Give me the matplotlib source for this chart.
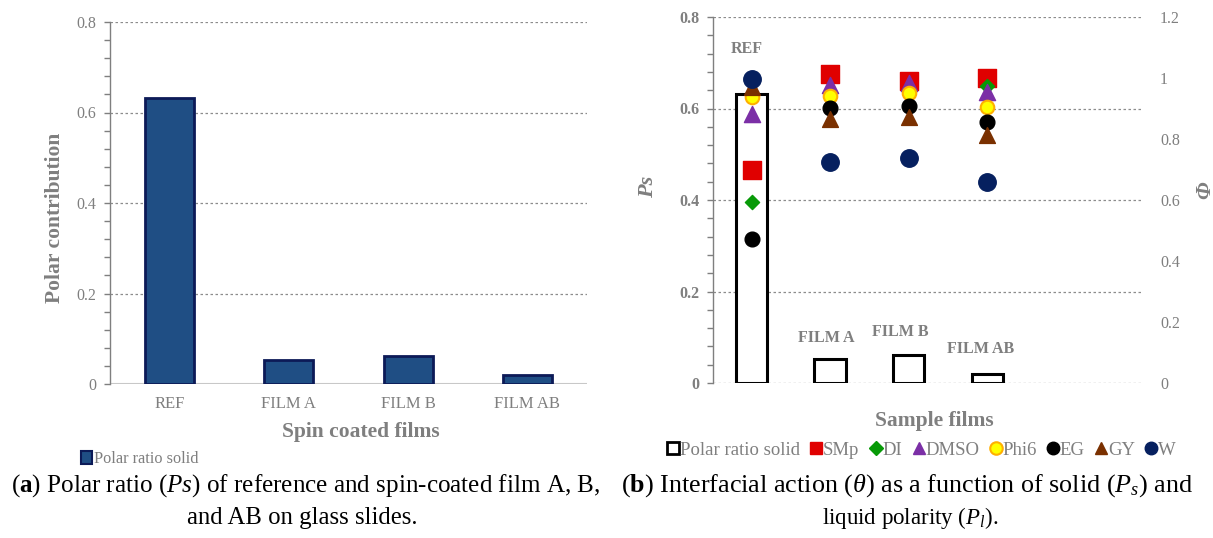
import matplotlib
matplotlib.use("Agg")
import matplotlib.pyplot as plt
from matplotlib.lines import Line2D
from matplotlib.patches import Patch
from matplotlib.ticker import MultipleLocator
import numpy as np

# ---- data -------------------------------------------------------------
films = ["REF", "FILM A", "FILM B", "FILM AB"]
polar_ratio_solid = [0.632, 0.053, 0.062, 0.019]

liquids = ["SMp", "DI", "DMSO", "Phi6", "EG", "GY", "W"]
phi_smp = [0.698, 1.013, 0.991, 0.999]
phi_di = [0.594, 0.955, 0.960, 0.974]
phi_dmso = [0.882, 0.977, 0.983, 0.955]
phi_phi6 = [0.939, 0.942, 0.950, 0.906]
phi_eg = [0.471, 0.901, 0.908, 0.855]
phi_gy = [0.969, 0.865, 0.873, 0.813]
phi_w = [0.996, 0.723, 0.739, 0.658]

ps_ticks = [0, 0.2, 0.4, 0.6, 0.8]
phi_ticks = [0, 0.2, 0.4, 0.6, 0.8, 1.0, 1.2]

# ---- style ------------------------------------------------------------
plt.rcParams["font.family"] = ["Liberation Serif", "DejaVu Serif"]
plt.rcParams["mathtext.fontset"] = "custom"
plt.rcParams["mathtext.rm"] = "Liberation Serif"
plt.rcParams["mathtext.it"] = "Liberation Serif:italic"
plt.rcParams["mathtext.bf"] = "Liberation Serif:bold"

GRAY = "#7f7f7f"
GRID = "#8c8c8c"
W_PX, H_PX = 1213, 538

fig = plt.figure(figsize=(W_PX / 100, H_PX / 100), dpi=100)


def fx(px):
    return px / W_PX


def fy(py):
    return 1 - py / H_PX


def style_left_axis(ax, bold=False):
    for s in ("top", "right", "bottom"):
        ax.spines[s].set_visible(False)
    ax.spines["left"].set_color(GRAY)
    ax.spines["left"].set_linewidth(1.0)
    ax.yaxis.set_major_locator(MultipleLocator(0.2))
    ax.yaxis.set_minor_locator(MultipleLocator(0.04))
    ax.tick_params(axis="y", which="both", direction="out", color=GRAY,
                   labelcolor=GRAY, labelsize=11.5, length=4, width=1, pad=6)
    ax.tick_params(axis="x", length=0)
    ax.set_yticks(ps_ticks)
    ax.set_yticklabels(["0", "0.2", "0.4", "0.6", "0.8"],
                       fontweight="bold" if bold else "normal")
    for t in ps_ticks[1:]:
        ax.axhline(t, color=GRID, lw=0.9, ls=(0, (2, 2)), zorder=0)


# ---- panel (a): bar chart --------------------------------------------
ax1 = fig.add_axes([fx(110), fy(384), fx(587 - 110), (384 - 22) / H_PX])
x = np.arange(len(films))
ax1.bar(x, polar_ratio_solid, width=0.41, color="#1f4e84",
        edgecolor="#0c1a57", linewidth=2.0, zorder=3)
ax1.set_xlim(-0.5, 3.5)
ax1.set_ylim(0, 0.8)
style_left_axis(ax1)
ax1.axhline(0, color="#c8c8c8", lw=1.5, zorder=2)
ax1.set_xticks(x)
ax1.set_xticklabels(films, color=GRAY, fontsize=12)
ax1.tick_params(axis="x", pad=9)

fig.text(fx(361), fy(432), "Spin coated films", color=GRAY, fontsize=15.5,
         fontweight="bold", ha="center", va="center")
fig.text(fx(55), fy(218), "Polar contribution", color=GRAY, fontsize=15.5,
         fontweight="bold", ha="center", va="center", rotation=90)
fig.legend(handles=[Patch(facecolor="#1f4e84", edgecolor="#0c1a57", lw=1.5,
                          label="Polar ratio solid")],
           loc="center left", bbox_to_anchor=(fx(81), fy(459)), frameon=False,
           fontsize=11.7, labelcolor=GRAY, handlelength=0.65, handleheight=0.85,
           handletextpad=0.12, borderpad=0, borderaxespad=0)

# ---- panel (b): bars + interfacial action ----------------------------
ax2 = fig.add_axes([fx(713), fy(383), fx(1142 - 713), (383 - 17) / H_PX])
ax2.bar(x, polar_ratio_solid, width=0.4, facecolor="white",
        edgecolor="black", linewidth=2.2, zorder=3)
ax2.set_xlim(-0.49, 4.97)
ax2.set_ylim(0, 0.8)
style_left_axis(ax2, bold=True)
ax2.axhline(0, color=GRID, lw=0.9, ls=(0, (2, 2)), zorder=0)
ax2.set_xticks([])

label_y = [0.73, 0.098, 0.111, 0.074]
label_dx = [-0.06, -0.05, -0.11, -0.08]
for xi, name, ly, dx in zip(x, films, label_y, label_dx):
    ax2.text(xi + dx, ly, name, color=GRAY, fontsize=11.5, fontweight="bold",
             ha="center", va="center", zorder=5)

ax3 = ax2.twinx()
ax3.set_ylim(0, 1.2)
ax3.set_xlim(ax2.get_xlim())
for s in ax3.spines.values():
    s.set_visible(False)
ax3.set_yticks(phi_ticks)
ax3.set_yticklabels(["0", "0.2", "0.4", "0.6", "0.8", "1", "1.2"])
ax3.tick_params(axis="y", length=0, labelcolor=GRAY, labelsize=11.5, pad=13)

series = [
    (phi_smp, "SMp", dict(marker="s", s=150, c="#e00000", edgecolors="#e00000")),
    (phi_di, "DI", dict(marker="D", s=52, c="#079a07", edgecolors="#079a07")),
    (phi_dmso, "DMSO", dict(marker="^", s=135, c="#7b2fa6", edgecolors="#7b2fa6")),
    (phi_phi6, "Phi6", dict(marker="o", s=95, c="#ffff00", edgecolors="#ffb000",
                             linewidths=1.5)),
    (phi_eg, "EG", dict(marker="o", s=112, c="black", edgecolors="black")),
    (phi_gy, "GY", dict(marker="^", s=130, c="#7a3000", edgecolors="#7a3000")),
    (phi_w, "W", dict(marker="o", s=158, c="#06205f", edgecolors="#06205f")),
]
handles = [Line2D([], [], marker="s", ls="none", markersize=8.5,
                  markerfacecolor="white", markeredgecolor="black",
                  markeredgewidth=2.0, label="Polar ratio solid")]
for vals, name, kw in series:
    ax3.scatter(x, vals, zorder=4, **kw)
    handles.append(Line2D([], [], marker=kw["marker"], ls="none",
                          markersize=9 if kw["marker"] != "D" else 7,
                          markerfacecolor=kw["c"],
                          markeredgecolor=kw["edgecolors"],
                          markeredgewidth=kw.get("linewidths", 1.0),
                          label=name))

fig.text(fx(934), fy(421), "Sample films", color=GRAY, fontsize=15.5,
         fontweight="bold", ha="center", va="center")
fig.text(fx(648), fy(187), "Ps", color=GRAY, fontsize=16,
         ha="center", va="center", rotation=90, fontweight="bold",
         fontstyle="italic")
fig.text(fx(1205), fy(190), "Φ", color=GRAY, fontsize=16,
         ha="center", va="center", rotation=90, fontweight="bold",
         fontstyle="italic")
fig.legend(handles=handles, loc="center", bbox_to_anchor=(fx(922), fy(450)),
           ncol=8, frameon=False, fontsize=13.5, labelcolor=GRAY,
           handlelength=0.55, handletextpad=0.08, columnspacing=0.6,
           borderpad=0, borderaxespad=0)

# ---- captions ---------------------------------------------------------
cap = dict(color="black", ha="center", va="center")
fig.text(fx(306), fy(486),
         r"($\mathbf{a}$) Polar ratio ($\mathit{Ps}$) of reference and "
         r"spin-coated film A, B,", fontsize=18.1, **cap)
fig.text(fx(302), fy(518), "and AB on glass slides.", fontsize=17.8, **cap)
fig.text(fx(907), fy(486),
         r"($\mathbf{b}$) Interfacial action ($\mathit{\theta}$) as a function "
         r"of solid ($\mathit{P}_{\mathit{s}}$) and", fontsize=18.8, **cap)
fig.text(fx(910), fy(518), r"liquid polarity ($\mathit{P}_{\mathit{l}}$).",
         fontsize=16.5, **cap)

fig.savefig("out.png", dpi=100)
